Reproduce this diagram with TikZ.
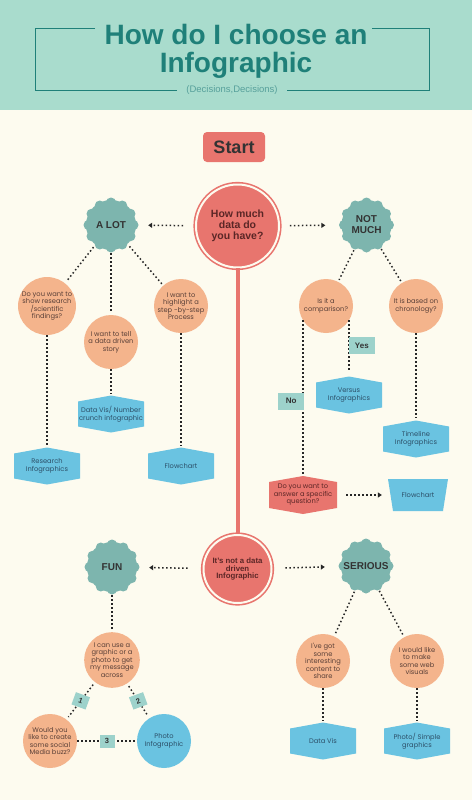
\documentclass[tikz,border=0pt]{standalone}
\usepackage{fontspec}
\setmainfont{Liberation Sans}
\newfontfamily\bodyfont{Poppins}
\usetikzlibrary{arrows.meta}
\definecolor{cream}{HTML}{FDFBEF}
\definecolor{band}{HTML}{A9DCCD}
\definecolor{titleteal}{HTML}{1F8079}
\definecolor{salmon}{HTML}{E8756E}
\definecolor{peach}{HTML}{F4B48C}
\definecolor{sage}{HTML}{7DB5AE}
\definecolor{skyblue}{HTML}{6AC3E1}
\definecolor{tagteal}{HTML}{9DD2CB}
\definecolor{bodytext}{HTML}{5A4038}
\definecolor{boxtext}{HTML}{2C4F68}
\definecolor{heavytext}{HTML}{5B2626}

\begin{document}
\begin{tikzpicture}[x=1pt, y=-1pt,
    dotline/.style={line width=1.5pt, dash pattern=on 1.5pt off 2.5pt, black!85},
    dotarrow/.style={dotline, -{Triangle[length=4pt,width=5pt]}},
    bubble/.style={circle, fill=#1, minimum size=54pt, inner sep=0pt, align=center,
        text=bodytext, font=\bodyfont\fontsize{6.7}{7.5}\selectfont},
    bubble/.default=peach,
    scallop/.style={circle, minimum size=56pt, inner sep=0pt, align=center,
        text=black!80, font=\bfseries\fontsize{10}{11}\selectfont,
        path picture={\fill[sage] (path picture bounding box.center) circle (25pt);
            \foreach \a in {0,30,...,330}
                \fill[sage] ([shift={(\a:22.5pt)}]path picture bounding box.center) circle (5pt);}},
    hexbox/.style={minimum width=66pt, minimum height=37pt, inner sep=1pt, align=center,
        text=boxtext, font=\bodyfont\fontsize{6.7}{7.5}\selectfont,
        path picture={\fill[#1] ([yshift=-6pt]path picture bounding box.north west)
            -- (path picture bounding box.north)
            -- ([yshift=-6pt]path picture bounding box.north east)
            -- ([yshift=6pt]path picture bounding box.south east)
            -- (path picture bounding box.south)
            -- ([yshift=6pt]path picture bounding box.south west) -- cycle;}},
    hexbox/.default=skyblue,
    trapbox/.style={minimum width=60pt, minimum height=32pt, inner sep=1pt, align=center,
        text=boxtext, font=\bodyfont\fontsize{6.7}{7.5}\selectfont,
        path picture={\fill[skyblue] (path picture bounding box.north west)
            -- (path picture bounding box.north east)
            -- ([xshift=-5pt]path picture bounding box.south east)
            -- ([xshift=5pt]path picture bounding box.south west) -- cycle;}},
    bigq/.style={circle, fill=salmon, draw=salmon, double=cream, double distance=2pt,
        line width=1.6pt, align=center, inner sep=0pt, text=heavytext},
    tag/.style={fill=tagteal, text=black!80, font=\bfseries\fontsize{8}{9}\selectfont,
        minimum width=26pt, minimum height=17pt, inner sep=1pt},
    numtag/.style={tag, minimum width=15pt, minimum height=13pt,
        font=\bfseries\fontsize{7.5}{8}\selectfont}
    ]
    \useasboundingbox (0,0) rectangle (472,800);
    % background and header band
    \fill[cream] (0,0) rectangle (472,800);
    \fill[band] (0,0) rectangle (472,110);
    \node[align=center, text=titleteal, font=\bfseries\fontsize{28}{28}\selectfont]
        (title) at (236,51) {How do I choose an\\Infographic};
    \node[text=titleteal!75, font=\fontsize{9.5}{12}\selectfont]
        (subtitle) at (232,90) {(Decisions,Decisions)};
    \draw[titleteal, line width=1pt] (95,29) -- (35,29) -- (35,90) -- (177,90);
    \draw[titleteal, line width=1pt] (287,90) -- (429,90) -- (429,29) -- (372,29);

    % start and the two main questions
    \node[fill=salmon, rounded corners=4pt, minimum width=62pt, minimum height=30pt,
        text=black!80, font=\bfseries\fontsize{18}{20}\selectfont] (start) at (234,147) {Start};
    \node[bigq, minimum size=83pt, font=\bfseries\fontsize{10.5}{11}\selectfont]
        (howmuch) at (237.5,226) {How much\\data do\\you have?};
    \node[bigq, minimum size=68pt, font=\bfseries\fontsize{7.8}{7.9}\selectfont]
        (notdata) at (237.5,569) {It's not a data\\driven\\Infographic};
    \draw[salmon, line width=4pt] (howmuch) -- (notdata);

    % answers
    \node[scallop] (alot) at (111,225) {A LOT};
    \node[scallop] (notmuch) at (366.5,225) {NOT\\MUCH};
    \node[scallop] (fun) at (112,567) {FUN};
    \node[scallop] (serious) at (366,566) {SERIOUS};
    \draw[dotarrow, shorten <=12pt, shorten >=9pt] (howmuch) -- (alot);
    \draw[dotarrow, shorten <=10pt, shorten >=13pt] (howmuch) -- (notmuch);
    \draw[dotarrow, shorten <=15pt, shorten >=9pt] (notdata) -- (fun);
    \draw[dotarrow, shorten <=13pt, shorten >=13pt] (notdata) -- (serious);

    % a lot
    \node[bubble] (showres) at (47,306) {Do you want to\\show research\\/scientific\\findings?};
    \node[bubble] (story) at (111,342) {I want to tell\\a data driven\\story};
    \node[bubble] (steps) at (181,306) {I want to\\highlight a\\step -by-step\\Process};
    \node[hexbox] (numvis) at (111,414) {Data Vis/ Number\\crunch infographic};
    \node[hexbox] (resinfo) at (47,466) {Research\\Infographics};
    \node[hexbox] (flowleft) at (181,466) {Flowchart};

    % not much
    \node[bubble] (compare) at (326,306) {Is it a\\comparison?};
    \node[bubble] (chrono) at (416,306) {It is based on\\chronology?};
    \node[hexbox] (versus) at (349,395) {Versus\\Infographics};
    \node[hexbox] (timeline) at (416,439) {Timeline\\Infographics};
    \node[hexbox=salmon, text=heavytext, minimum width=68pt, minimum height=38pt]
        (question) at (303,495) {Do you want to\\answer a specific\\question?};
    \node[trapbox] (flowright) at (418,495) {Flowchart};

    % fun
    \node[bubble] (canuse) at (112,660) {I can use a\\graphic or a\\photo to get\\my message\\across};
    \node[bubble] (buzz) at (50,741) {Would you\\like to create\\some social\\Media buzz?};
    \node[bubble=skyblue, text=boxtext] (photo) at (164,741) {Photo\\Infographic};

    % serious
    \node[bubble] (gotcontent) at (323,661) {I've got\\some\\interesting\\content to\\share};
    \node[bubble] (webvis) at (417,661) {I would like\\to make\\some web\\visuals};
    \node[hexbox] (datavis) at (323,741) {Data Vis};
    \node[hexbox] (simple) at (417,741) {Photo/ Simple\\graphics};

    % dotted connectors
    \foreach \a/\b in {alot/showres, alot/story, alot/steps, story/numvis,
        showres/resinfo, steps/flowleft, notmuch/compare, notmuch/chrono,
        chrono/timeline, fun/canuse, serious/gotcontent, serious/webvis,
        gotcontent/datavis, webvis/simple}
    {
        \draw[dotline, shorten >=2pt] (\a) -- (\b);
    }
    \draw[dotline] (compare.212) -- (compare.212 |- question.north)
        node[tag, pos=0.52, anchor=east, xshift=2pt] {No};
    \draw[dotline, shorten >=5pt] (compare.328) -- (compare.328 |- versus.north)
        node[tag, pos=0.45, anchor=west, xshift=-1pt] {Yes};
    \draw[dotarrow, shorten <=9pt, shorten >=6pt] (question) -- (flowright);
    \draw[dotline, shorten <=3pt, shorten >=3pt] (canuse) -- (buzz)
        node[numtag, midway, rotate=-20] {1};
    \draw[dotline, shorten <=3pt, shorten >=3pt] (canuse) -- (photo)
        node[numtag, midway, rotate=20] {2};
    \draw[dotline] (buzz) -- (photo) node[numtag, midway] {3};
\end{tikzpicture}
\end{document}
